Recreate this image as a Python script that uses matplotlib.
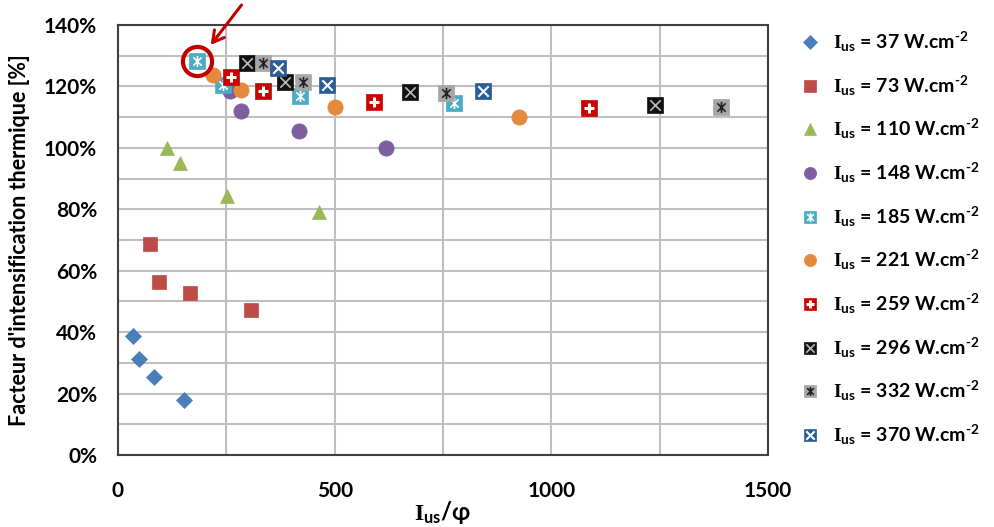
import matplotlib
matplotlib.use("Agg")
import matplotlib.pyplot as plt
from matplotlib.path import Path
from matplotlib.ticker import MultipleLocator, FuncFormatter
from matplotlib.lines import Line2D

plt.rcParams['font.family'] = ['Lato', 'DejaVu Sans']
plt.rcParams['font.weight'] = 'bold'
plt.rcParams['mathtext.fontset'] = 'custom'
plt.rcParams['mathtext.rm'] = 'Liberation Serif:bold'
plt.rcParams['mathtext.bf'] = 'Lato:bold'
plt.rcParams['mathtext.it'] = 'Lato:bold'

# ---- data ----
intensities = [37, 73, 110, 148, 185, 221, 259, 296, 332, 370]

x37 = [35, 48, 82, 153]
y37 = [38.8, 31.3, 25.4, 17.9]
x73 = [74, 95, 166, 307]
y73 = [68.7, 56.4, 52.8, 47.2]
x110 = [113, 143, 252, 464]
y110 = [100.0, 95.0, 84.4, 79.2]
x148 = [258, 284, 418, 618]
y148 = [118.5, 112.0, 105.5, 100.0]
x185 = [182, 242, 420, 775]
y185 = [128.3, 120.5, 117.0, 114.6]
x221 = [219, 284, 501, 925]
y221 = [123.8, 118.9, 113.4, 110.0]
x259 = [261, 335, 591, 1087]
y259 = [123.0, 118.6, 115.0, 113.0]
x296 = [298, 385, 674, 1239]
y296 = [127.7, 121.5, 118.2, 114.0]
x332 = [335, 427, 757, 1391]
y332 = [127.7, 121.5, 117.9, 113.4]
x370 = [369, 482, 842]
y370 = [126.0, 120.5, 118.6]

highlight_x = 182
highlight_y = 128.3

x_ticks = [0, 500, 1000, 1500]
y_ticks = [0, 20, 40, 60, 80, 100, 120, 140]

# ---- custom marker paths ----
ast_path = Path([(0, -1), (0, 1), (-0.75, -0.75), (0.75, 0.75), (-0.75, 0.75), (0.75, -0.75)],
                [Path.MOVETO, Path.LINETO, Path.MOVETO, Path.LINETO, Path.MOVETO, Path.LINETO])
x_path = Path([(-1, -1), (1, 1), (-1, 1), (1, -1)],
              [Path.MOVETO, Path.LINETO, Path.MOVETO, Path.LINETO])

fig = plt.figure(figsize=(9.95, 5.27), dpi=100)
ax = fig.add_axes([118/995, 1-455/527, (768-118)/995, (455-25)/527])

series = [
    (x37, y37, dict(marker='D', color='#4a7ebb', ms=8.5), None),
    (x73, y73, dict(marker='s', color='#be4b48', ms=10), None),
    (x110, y110, dict(marker='^', color='#98b954', ms=10.5), None),
    (x148, y148, dict(marker='o', color='#7d5fa0', ms=11), None),
    (x185, y185, dict(marker='s', color='#4bacc6', ms=11), dict(marker=ast_path, color='white', ms=8, mew=1.2)),
    (x221, y221, dict(marker='o', color='#e5893f', ms=11), None),
    (x259, y259, dict(marker='s', color='#cc0000', ms=11), dict(marker='+', color='white', ms=7.5, mew=2.2)),
    (x296, y296, dict(marker='s', color='#111111', ms=11), dict(marker=x_path, color='#bbbbbb', ms=7.5, mew=1.2)),
    (x332, y332, dict(marker='s', color='#a6a6a6', ms=11), dict(marker=ast_path, color='#222222', ms=8, mew=1.2)),
    (x370, y370, dict(marker='s', color='#2a5d97', ms=11), dict(marker=x_path, color='white', ms=7.5, mew=1.5)),
]

HY = '\u2010'
handles = []
labels = []
for i, (xs, ys, base, over) in enumerate(series):
    ax.plot(xs, ys, linestyle='none', marker=base['marker'], ms=base['ms'],
            mfc=base['color'], mec=base['color'], mew=0.5, zorder=3 + i * 0.1)
    hb = Line2D([], [], linestyle='none', marker=base['marker'], ms=base['ms'] * 0.8,
                mfc=base['color'], mec=base['color'], mew=0.5)
    if over is not None:
        ax.plot(xs, ys, linestyle='none', marker=over['marker'], ms=over['ms'],
                mec=over['color'], mfc='none', mew=over['mew'], zorder=3.05 + i * 0.1)
        ho = Line2D([], [], linestyle='none', marker=over['marker'], ms=over['ms'] * 0.8,
                    mec=over['color'], mfc='none', mew=over['mew'])
        handles.append((hb, ho))
    else:
        handles.append(hb)
    labels.append(r'$\mathrm{I}_{\mathbf{us}}$ = ' + str(intensities[i]) +
                  r' W.cm$^{\mathbf{' + HY + r'2}}$')

# highlight circle and arrow
ax.plot([highlight_x], [highlight_y], linestyle='none', marker='o', ms=21, mfc='none',
        mec='#c00000', mew=3, zorder=10)
ax.annotate('', xy=(214, 133.5), xytext=(285, 146.5), xycoords='data', textcoords='data',
            annotation_clip=False,
            arrowprops=dict(arrowstyle='->,head_length=0.8,head_width=0.45', color='#c00000', lw=2.2,
                            shrinkA=0, shrinkB=0), zorder=11)

ax.set_xlim(0, 1500)
ax.set_ylim(0, 140)
ax.set_xticks(x_ticks)
ax.set_yticks(y_ticks)
ax.xaxis.set_minor_locator(MultipleLocator(250))
ax.yaxis.set_minor_locator(MultipleLocator(10))
ax.yaxis.set_major_formatter(FuncFormatter(lambda v, p: '%d%%' % v))
ax.grid(True, which='both', color='#bfbfbf', lw=1.5)
ax.set_axisbelow(True)
ax.tick_params(which='both', length=0, labelsize=15)
ax.tick_params(axis='x', pad=19)
ax.tick_params(axis='y', pad=15)
for lab in ax.get_xticklabels() + ax.get_yticklabels():
    lab.set_fontweight('bold')
for s in ax.spines.values():
    s.set_color('#404040')
    s.set_linewidth(1.5)

ax.set_xlabel(r'$\mathrm{I}_{\mathbf{us}}$/φ', fontsize=17, fontweight='bold')
ax.xaxis.set_label_coords(0.5, -(499 - 455) / 430)
ax.set_ylabel("Facteur d'intensification thermique [%]", fontsize=15.5, fontweight='bold', labelpad=10)

fig.legend(handles, labels, loc='upper left', bbox_to_anchor=(800/995, 1 - 30/527),
           frameon=False, prop=dict(size=14, weight='bold'), handlelength=1.0,
           handletextpad=0.7, labelspacing=1.0, borderpad=0, borderaxespad=0)

fig.savefig('out.png', dpi=100)
